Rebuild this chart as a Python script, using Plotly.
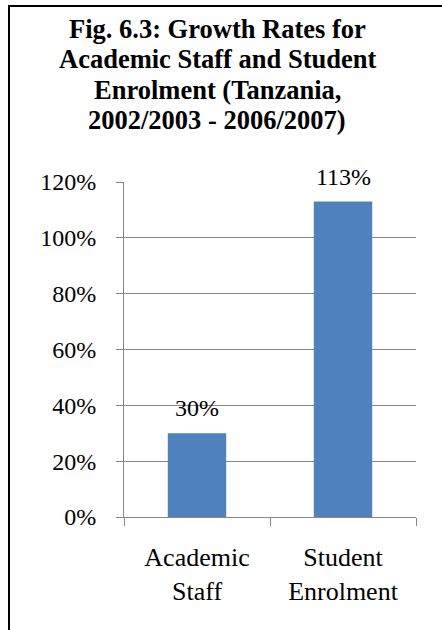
import plotly.graph_objects as go

categories = ["Academic<br>Staff", "Student<br>Enrolment"]
values = [0.30, 1.13]
value_labels = ["30%", "113%"]
y_ticks = [0, 0.2, 0.4, 0.6, 0.8, 1.0, 1.2]
y_tick_labels = ["0%", "20%", "40%", "60%", "80%", "100%", "120%"]
title_lines = [
    "Fig. 6.3: Growth Rates for",
    "Academic Staff and Student",
    "Enrolment (Tanzania,",
    "2002/2003 - 2006/2007)",
]

FONT = "Liberation Serif"
GRID = "#878787"

W, H = 442, 630
ML, MR, MT, MB = 124, 26, 182, 113
PW, PH = W - ML - MR, H - MT - MB


def px_x(px):
    return (px - ML) / PW


def px_y(py):
    return (H - MB - py) / PH


fig = go.Figure()
fig.add_trace(go.Bar(
    x=categories, y=values,
    marker=dict(color="#4F81BD", line=dict(width=0)),
    width=0.4,
    hoverinfo="skip",
))

for c, v, t in zip(categories, values, value_labels):
    fig.add_annotation(x=c, y=v, text=t, showarrow=False,
                       yanchor="middle", yshift=25,
                       font=dict(family=FONT, size=24, color="black"))

# title, one line per annotation for tight line spacing
title_y = [29.5, 59.5, 90, 119.5]
for line, ty in zip(title_lines, title_y):
    fig.add_annotation(xref="paper", yref="paper", x=px_x(217), y=px_y(ty),
                       xanchor="center", yanchor="middle", showarrow=False,
                       text="<b>%s</b>" % line,
                       font=dict(family=FONT, size=26.5, color="black"))

# outer border (partly cropped, as in the reference)
fig.add_shape(type="rect", xref="paper", yref="paper",
              x0=px_x(9), x1=px_x(470), y0=px_y(660), y1=px_y(6),
              line=dict(color="black", width=2), fillcolor="rgba(0,0,0,0)")

fig.update_layout(
    width=W, height=H,
    margin=dict(l=ML, r=MR, t=MT, b=MB),
    paper_bgcolor="white", plot_bgcolor="white",
    showlegend=False,
    font=dict(family=FONT, size=24, color="black"),
    xaxis=dict(
        type="category", tickson="boundaries",
        ticks="outside", ticklen=8, tickcolor=GRID, tickwidth=1,
        showline=True, linecolor=GRID, linewidth=1,
        showgrid=False, zeroline=False,
        ticklabelstandoff=17,
        tickfont=dict(family=FONT, size=26, color="black"),
    ),
    yaxis=dict(
        range=[0, 1.2], tickvals=y_ticks, ticktext=y_tick_labels,
        ticks="outside", ticklen=7, tickcolor=GRID, tickwidth=1,
        showline=True, linecolor=GRID, linewidth=1,
        showgrid=True, gridcolor=GRID, gridwidth=1,
        zeroline=False,
        ticklabelstandoff=15,
        tickfont=dict(family=FONT, size=24, color="black"),
    ),
)

fig.write_html("out.html", config={"displayModeBar": False},
               post_script="document.body.style.margin='0px';")
